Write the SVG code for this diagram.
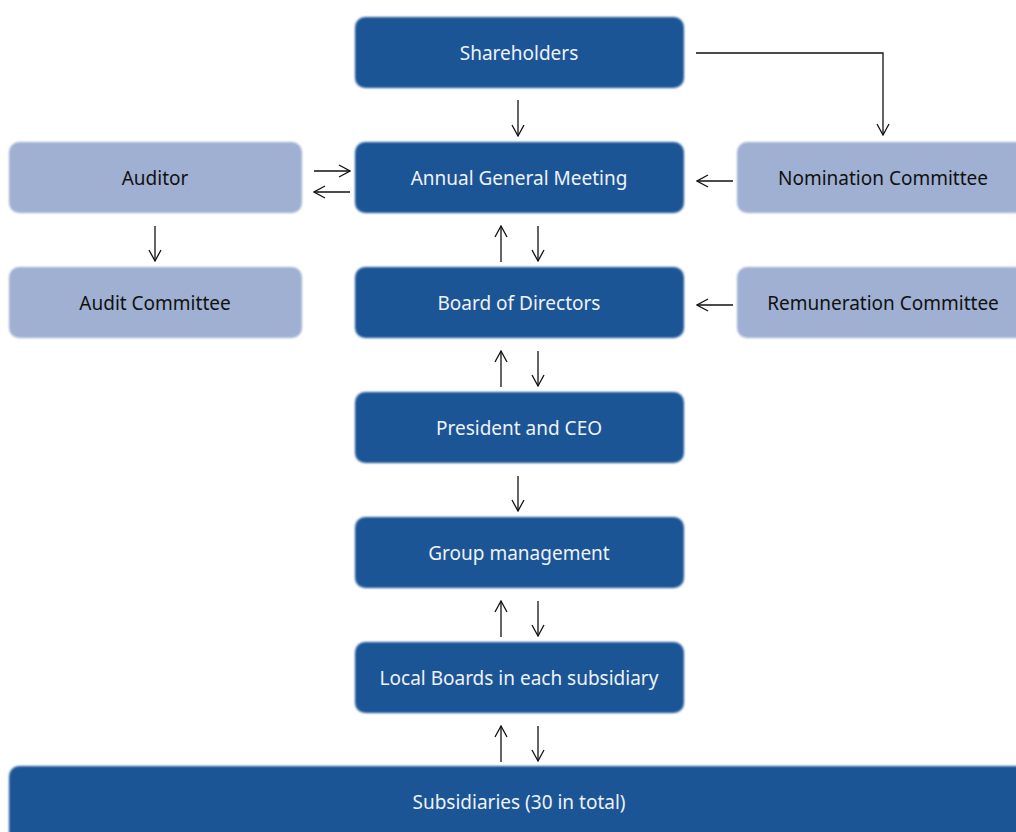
<svg xmlns="http://www.w3.org/2000/svg" width="1016" height="832" viewBox="0 0 1016 832">
<style>
.dark{fill:#1f5596}
.light{fill:#9fb0d2}
.tw{font-family:"Noto Sans","Open Sans",sans-serif;font-size:19px;fill:#eef2f9;text-anchor:middle;dominant-baseline:central}
.tb{font-family:"Noto Sans","Open Sans",sans-serif;font-size:19px;fill:#111111;text-anchor:middle;dominant-baseline:central}
.c{fill:none;stroke:#111111;stroke-width:1.3}
</style>
<defs>
<filter id="soft" x="-5%" y="-10%" width="110%" height="120%"><feGaussianBlur stdDeviation="1.2"/></filter>
<marker id="ah" viewBox="0 0 14 14" refX="13" refY="7" markerWidth="14" markerHeight="14" markerUnits="userSpaceOnUse" orient="auto"><path d="M2,1 L13,7 L2,13" fill="none" stroke="#111111" stroke-width="1.3"/></marker>
</defs>
<rect width="1016" height="832" fill="#ffffff"/>
<g id="shareholders"><rect class="dark" x="355" y="17" width="329" height="71" rx="10" filter="url(#soft)"/><text class="tw" x="519" y="53">Shareholders</text></g>
<g id="agm"><rect class="dark" x="355" y="142" width="329" height="71" rx="10" filter="url(#soft)"/><text class="tw" x="519" y="178">Annual General Meeting</text></g>
<g id="board"><rect class="dark" x="355" y="267" width="329" height="71" rx="10" filter="url(#soft)"/><text class="tw" x="519" y="303">Board of Directors</text></g>
<g id="ceo"><rect class="dark" x="355" y="392" width="329" height="71" rx="10" filter="url(#soft)"/><text class="tw" x="519" y="428">President and CEO</text></g>
<g id="group"><rect class="dark" x="355" y="517" width="329" height="71" rx="10" filter="url(#soft)"/><text class="tw" x="519" y="553">Group management</text></g>
<g id="local"><rect class="dark" x="355" y="642" width="329" height="71" rx="10" filter="url(#soft)"/><text class="tw" x="519" y="678">Local Boards in each subsidiary</text></g>
<g id="subsidiaries"><rect class="dark" x="9" y="766" width="1030" height="80" rx="10" filter="url(#soft)"/><text class="tw" x="519" y="802">Subsidiaries (30 in total)</text></g>
<g id="auditor"><rect class="light" x="9" y="142" width="293" height="71" rx="10" filter="url(#soft)"/><text class="tb" x="155" y="178">Auditor</text></g>
<g id="auditcommittee"><rect class="light" x="9" y="267" width="293" height="71" rx="10" filter="url(#soft)"/><text class="tb" x="155" y="303">Audit Committee</text></g>
<g id="nomination"><rect class="light" x="737" y="142" width="300" height="71" rx="10" filter="url(#soft)"/><text class="tb" x="883" y="178">Nomination Committee</text></g>
<g id="remuneration"><rect class="light" x="737" y="267" width="300" height="71" rx="10" filter="url(#soft)"/><text class="tb" x="883" y="303">Remuneration Committee</text></g>
<g id="connectors">
<path class="c" d="M518,100 V136" marker-end="url(#ah)"/>
<path class="c" d="M696,53 H883 V135" marker-end="url(#ah)"/>
<path class="c" d="M314,171 H350" marker-end="url(#ah)"/>
<path class="c" d="M350,192 H314" marker-end="url(#ah)"/>
<path class="c" d="M733,181 H697" marker-end="url(#ah)"/>
<path class="c" d="M733,305 H697" marker-end="url(#ah)"/>
<path class="c" d="M155,226 V261" marker-end="url(#ah)"/>
<path class="c" d="M501,262 V226" marker-end="url(#ah)"/>
<path class="c" d="M538,226 V261" marker-end="url(#ah)"/>
<path class="c" d="M501,387 V351" marker-end="url(#ah)"/>
<path class="c" d="M538,351 V386" marker-end="url(#ah)"/>
<path class="c" d="M518,476 V511" marker-end="url(#ah)"/>
<path class="c" d="M501,637 V601" marker-end="url(#ah)"/>
<path class="c" d="M538,601 V636" marker-end="url(#ah)"/>
<path class="c" d="M501,762 V726" marker-end="url(#ah)"/>
<path class="c" d="M538,726 V761" marker-end="url(#ah)"/>
</g>
</svg>
